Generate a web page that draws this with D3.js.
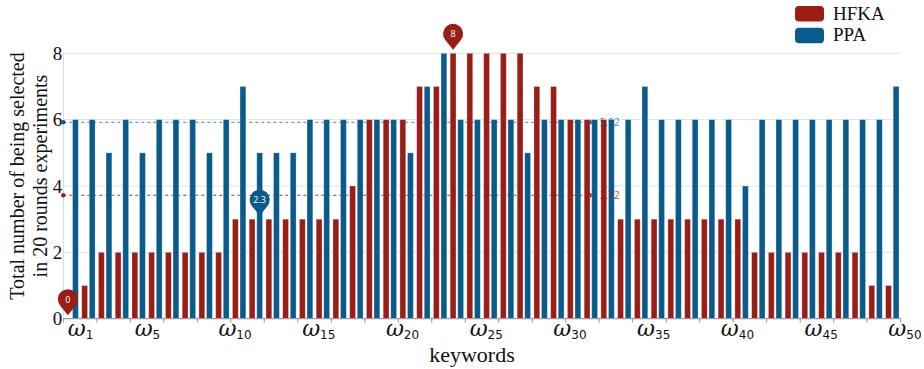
<!DOCTYPE html>
<html>
<head>
<meta charset="utf-8">
<script src="https://cdn.jsdelivr.net/npm/d3@7/dist/d3.min.js"></script>
<style>
  html, body { margin: 0; padding: 0; background: #fff; }
  svg { display: block; }
</style>
</head>
<body>
<svg id="chart" width="924" height="369"></svg>
<script>
// keyword indices ω1 … ω50
const categories = d3.range(1, 51);
// selection counts over 20 rounds
const hfka = [0, 1, 2, 2, 2, 2, 2, 2, 2, 2,
              3, 3, 3, 3, 3, 3, 3, 4, 6, 6,
              6, 7, 7, 8, 8, 8, 8, 8, 7, 7,
              6, 6, 6, 3, 3, 3, 3, 3, 3, 3,
              3, 2, 2, 2, 2, 2, 2, 2, 1, 1];
const ppa  = [6, 6, 5, 6, 5, 6, 6, 6, 5, 6,
              7, 5, 5, 5, 6, 6, 6, 6, 6, 6,
              5, 7, 8, 6, 6, 6, 6, 5, 6, 6,
              6, 6, 6, 6, 7, 6, 6, 6, 6, 6,
              4, 6, 6, 6, 6, 6, 6, 6, 6, 7];
const seriesNames = ["HFKA", "PPA"];
const yTicks = [0, 2, 4, 6, 8];
const labelledKeywords = [1, 5, 10, 15, 20, 25, 30, 35, 40, 45, 50];
// pins: series, keyword, value, text
const pinSeries = ["HFKA", "HFKA", "PPA"];
const pinKeyword = [1, 24, 12];
const pinValue = [0, 8, 3];
const pinText = ["0", "8", "2.3"];
// average lines run up to this keyword
const avgLineEnd = 32;

const colors = { HFKA: "#9a1d16", PPA: "#0a5a8b" };
const values = { HFKA: hfka, PPA: ppa };

const svg = d3.select("#chart");
const plotL = 63.3, plotR = 900.7, plotT = 53.3, plotB = 318.7;

const x = d3.scaleBand().domain(categories).range([plotL, plotR]).padding(0);
const y = d3.scaleLinear().domain([0, 8]).range([plotB, plotT]);
const bw = x.bandwidth();
const barW = 0.8 * bw / 2.3;
const barGap = 0.3 * barW;
const barX = (s, c) => x(c) + bw / 2 + (s === "HFKA" ? -barGap / 2 - barW : barGap / 2);
const barCenter = (s, c) => barX(s, c) + barW / 2;

// grid
svg.append("g").selectAll("line").data(yTicks.filter(t => t > 0)).join("line")
  .attr("x1", plotL).attr("x2", plotR)
  .attr("y1", d => y(d)).attr("y2", d => y(d))
  .attr("stroke", "#e2e2e2").attr("stroke-width", 1);

// left axis line
svg.append("line").attr("x1", plotL).attr("x2", plotL).attr("y1", plotT).attr("y2", plotB)
  .attr("stroke", "#d8d8d8");

// y tick labels
svg.append("g").selectAll("text").data(yTicks).join("text")
  .attr("x", plotL - 1).attr("y", d => y(d) + 6.5)
  .attr("text-anchor", "end")
  .attr("font-family", "Liberation Serif, serif").attr("font-size", 19)
  .attr("fill", "#111").text(d => d);

// average lines (drawn under the bars)
seriesNames.forEach(s => {
  const avg = d3.mean(values[s]);
  const yy = y(avg);
  const xEnd = x(avgLineEnd) + bw / 2 + 4;
  const g = svg.append("g");
  g.append("line").attr("x1", plotL).attr("x2", xEnd - 5).attr("y1", yy).attr("y2", yy)
    .attr("stroke", colors[s]).attr("stroke-width", 1).attr("stroke-dasharray", "3,3")
    .attr("opacity", s === "PPA" ? 0.75 : 0.9);
  g.append("circle").attr("cx", plotL).attr("cy", yy).attr("r", 2.2).attr("fill", colors[s]);
  g.append("path").attr("d", `M${xEnd},${yy} L${xEnd - 6},${yy - 3} L${xEnd - 6},${yy + 3} Z`)
    .attr("fill", colors[s]);
});

// bars
seriesNames.forEach(s => {
  svg.append("g").selectAll("rect").data(categories).join("rect")
    .attr("x", c => barX(s, c))
    .attr("width", barW)
    .attr("y", (c, i) => y(values[s][i]))
    .attr("height", (c, i) => y(0) - y(values[s][i]))
    .attr("fill", colors[s])
    .attr("stroke", "#ffffff").attr("stroke-opacity", 0.35).attr("stroke-width", 0.8);
});

// average labels
seriesNames.forEach(s => {
  const avg = d3.mean(values[s]);
  svg.append("text").attr("x", x(avgLineEnd) + bw / 2 + 9).attr("y", y(avg) + 3.5)
    .attr("font-family", "Open Sans, sans-serif").attr("font-size", 10)
    .attr("fill", colors[s]).attr("opacity", s === "PPA" ? 0.7 : 0.8)
    .text(d3.format(".2f")(avg));
});

// x axis
svg.append("line").attr("x1", plotL).attr("x2", plotR).attr("y1", plotB).attr("y2", plotB)
  .attr("stroke", "#9a9a9a").attr("stroke-width", 1.2);
const tickPos = categories.filter((c, i) => i % 2 === 0).map(c => x(c)).concat([plotR]);
svg.append("g").selectAll("line").data(tickPos).join("line")
  .attr("x1", d => d).attr("x2", d => d).attr("y1", plotB).attr("y2", plotB + 4)
  .attr("stroke", "#9a9a9a");

const xl = svg.append("g").selectAll("text").data(labelledKeywords).join("text")
  .attr("x", c => x(c) + bw / 2 - 4).attr("y", 336)
  .attr("font-family", "DejaVu Serif, serif").attr("fill", "#111");
xl.append("tspan").attr("font-style", "italic").attr("font-size", 22).text("ω");
xl.append("tspan").attr("font-size", 12).attr("dy", 3).attr("font-family", "DejaVu Sans, sans-serif").text(c => c);

// axis titles
svg.append("text").attr("x", 472).attr("y", 362).attr("text-anchor", "middle")
  .attr("font-family", "Liberation Serif, serif").attr("font-size", 22).attr("fill", "#111")
  .text("keywords");
const yt = svg.append("text").attr("transform", "translate(0,176) rotate(-90)")
  .attr("text-anchor", "middle")
  .attr("font-family", "Liberation Serif, serif").attr("font-size", 20).attr("fill", "#111");
yt.append("tspan").attr("x", 0).attr("y", 24).text("Total number of being selected");
yt.append("tspan").attr("x", 0).attr("y", 47).text("in 20 rounds experiments");

// pins
const r = 10, d = 16;
const th = Math.acos(r / d);
const pinPath = `M0,${d} L${-r * Math.sin(th)},${r * Math.cos(th)} A${r},${r} 0 1 1 ${r * Math.sin(th)},${r * Math.cos(th)} Z`;
const pins = svg.append("g").selectAll("g").data(pinText).join("g")
  .attr("transform", (t, i) => `translate(${barCenter(pinSeries[i], pinKeyword[i])},${y(pinValue[i]) - 3.5 - d})`);
pins.append("path").attr("d", pinPath).attr("fill", (t, i) => colors[pinSeries[i]]);
pins.append("text").attr("text-anchor", "middle").attr("y", 3.5)
  .attr("font-family", "Open Sans, sans-serif").attr("font-size", 9).attr("fill", "#fff")
  .text(t => t);

// legend
const lg = svg.append("g").selectAll("g").data(seriesNames).join("g")
  .attr("transform", (s, i) => `translate(795,${6 + i * 21.7})`);
lg.append("rect").attr("width", 29).attr("height", 15.6).attr("rx", 4)
  .attr("fill", s => colors[s]);
lg.append("text").attr("x", 38).attr("y", 13.5)
  .attr("font-family", "Liberation Serif, serif").attr("font-size", 19).attr("fill", "#111")
  .text(s => s);
</script>
</body>
</html>
